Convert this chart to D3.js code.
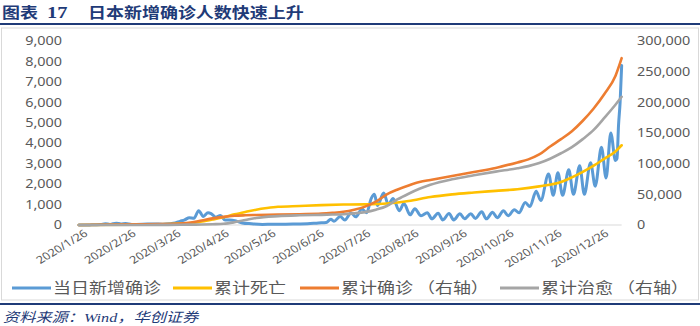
<!DOCTYPE html>
<html>
<head>
<meta charset="utf-8">
<script src="https://cdn.jsdelivr.net/npm/d3@7"></script>
<style>
  html, body { margin: 0; padding: 0; background: #fff; }
  svg { display: block; }
</style>
</head>
<body>
<svg id="chart" width="700" height="326"></svg>
<script>
// Daily new confirmed cases (left axis)
const dailyDates = [
  "2020-01-24","2020-01-31","2020-02-07","2020-02-10","2020-02-13","2020-02-17","2020-02-20","2020-02-23","2020-02-27",
  "2020-03-05","2020-03-12","2020-03-18","2020-03-22","2020-03-26","2020-03-29","2020-04-01","2020-04-04","2020-04-07",
  "2020-04-10","2020-04-13","2020-04-16","2020-04-18","2020-04-21","2020-04-24","2020-04-27","2020-04-30","2020-05-04",
  "2020-05-08","2020-05-14","2020-05-21","2020-05-28","2020-06-05","2020-06-12","2020-06-19","2020-06-26","2020-07-01",
  "2020-07-04","2020-07-06","2020-07-10","2020-07-13","2020-07-17","2020-07-20","2020-07-24","2020-07-27","2020-07-30",
  "2020-08-01","2020-08-03","2020-08-07","2020-08-10","2020-08-13","2020-08-17","2020-08-20","2020-08-24","2020-08-27",
  "2020-08-31","2020-09-04","2020-09-07","2020-09-11","2020-09-14","2020-09-18","2020-09-21","2020-09-25","2020-09-28",
  "2020-10-02","2020-10-05","2020-10-09","2020-10-12","2020-10-16","2020-10-19","2020-10-23","2020-10-26","2020-10-30",
  "2020-11-02","2020-11-06","2020-11-09","2020-11-13","2020-11-16","2020-11-21","2020-11-24","2020-11-27","2020-11-30",
  "2020-12-04","2020-12-07","2020-12-11","2020-12-14","2020-12-18","2020-12-21","2020-12-25","2020-12-28","2020-12-31",
  "2021-01-03","2021-01-04","2021-01-05","2021-01-06","2021-01-07"
];
const dailyNew = [
  0, 5, 20, 60, 30, 90, 50, 70, 25,
  35, 55, 40, 60, 100, 180, 250, 360, 330,
  700, 420, 600, 560, 380, 460, 240, 250, 200,
  100, 60, 30, 40, 40, 50, 60, 100, 120,
  280, 180, 420, 250, 590, 400, 780, 600, 1300,
  1500, 950, 1560, 1000, 1300, 700, 1050, 500, 800,
  450, 600, 300, 580, 250, 560, 250, 550, 300,
  550, 320, 650, 300, 620, 350, 700, 450, 750,
  600, 1100, 900, 1650, 1200, 2500, 1450, 2550, 1450,
  2700, 1500, 2900, 1500, 3050, 1900, 3800, 2300, 4500,
  3150, 3250, 4900, 6000, 7800
];

// Cumulative deaths (left axis)
const deathDates = [
  "2020-01-24","2020-02-29","2020-03-22","2020-04-05","2020-04-12","2020-04-19","2020-04-26","2020-05-03","2020-05-10",
  "2020-05-17","2020-05-24","2020-05-31","2020-06-14","2020-06-28","2020-07-12","2020-07-26","2020-08-09","2020-08-23",
  "2020-09-06","2020-09-20","2020-10-04","2020-10-18","2020-11-01","2020-11-15","2020-11-29","2020-12-06","2020-12-13",
  "2020-12-20","2020-12-27","2021-01-03","2021-01-07"
];
const cumDeaths = [
  0, 10, 50, 90, 170, 270, 380, 520, 640,
  750, 830, 890, 930, 970, 1000, 1010, 1050, 1170,
  1370, 1500, 1590, 1670, 1750, 1890, 2100, 2330, 2600,
  2900, 3250, 3600, 3900
];

// Cumulative confirmed and recovered (right axis)
const cumDates = [
  "2020-01-24","2020-03-01","2020-03-15","2020-03-29","2020-04-05","2020-04-12","2020-04-19","2020-04-26","2020-05-03",
  "2020-05-10","2020-05-17","2020-05-31","2020-06-14","2020-06-28","2020-07-05","2020-07-12","2020-07-19","2020-07-26",
  "2020-08-02","2020-08-09","2020-08-16","2020-08-23","2020-08-30","2020-09-06","2020-09-20","2020-10-04","2020-10-18",
  "2020-11-01","2020-11-08","2020-11-15","2020-11-22","2020-11-29","2020-12-06","2020-12-13","2020-12-20","2020-12-27",
  "2021-01-03","2021-01-07"
];
const cumConfirmed = [
  0, 1000, 1500, 2500, 4000, 7400, 10800, 13300, 15000,
  15800, 16300, 16900, 17600, 18500, 19800, 21600, 25000, 30000,
  38000, 50000, 58000, 64500, 70000, 73500, 80000, 86500, 93000,
  102000, 107000, 115000, 128000, 140000, 153000, 170000, 190000, 214000,
  243000, 272000
];
const cumRecovered = [
  0, 50, 200, 400, 600, 800, 1300, 2000, 4500,
  8000, 11500, 14500, 15800, 16500, 17000, 17600, 19000, 21000,
  25000, 31000, 42000, 51000, 59000, 65500, 74500, 81000, 87000,
  92500, 96000, 101000, 108000, 117000, 127000, 140000, 155000, 175000,
  196000, 209000
];

const tickLabels = [
  "2020/1/26","2020/2/26","2020/3/26","2020/4/26","2020/5/26","2020/6/26",
  "2020/7/26","2020/8/26","2020/9/26","2020/10/26","2020/11/26","2020/12/26"
];
const leftTicks = [0, 1000, 2000, 3000, 4000, 5000, 6000, 7000, 8000, 9000];
const rightTicks = [0, 50000, 100000, 150000, 200000, 250000, 300000];

const seriesNames = ["当日新增确诊", "累计死亡", "累计确诊 （右轴）", "累计治愈 （右轴）"];
const seriesColors = ["#5B9BD5", "#FFC000", "#ED7D31", "#A5A5A5"];

// ---- layout ----
const SX = 1.2;               // horizontal stretch applied to all text
const navy = "#1F3B78";
const axisGray = "#595959";
const parseDay = d3.utcParse("%Y-%m-%d");
const parseTick = d3.utcParse("%Y/%m/%d");

const svg = d3.select("#chart");

const x = d3.scaleUtc()
  .domain([parseTick(tickLabels[0]), parseTick(tickLabels[tickLabels.length - 1])])
  .range([82, 603]);
const yL = d3.scaleLinear().domain([0, 9000]).range([225, 41]);
const yR = d3.scaleLinear().domain([0, 300000]).range([225, 41]);

function stretchText(g, px, py, str) {
  return g.append("text")
    .attr("transform", `translate(${px},${py}) scale(${SX},1)`)
    .text(str);
}

// Title
const title = svg.append("g")
  .attr("fill", navy)
  .attr("font-family", "'Liberation Serif', 'Noto Sans CJK SC', serif")
  .attr("font-weight", 700)
  .attr("font-size", 15);
stretchText(title, 2, 17.5, "图表");
stretchText(title, 47, 17.5, "17").attr("font-size", 17);
stretchText(title, 88, 17.5, "日本新增确诊人数快速上升");

svg.append("line").attr("x1", 0).attr("x2", 700).attr("y1", 24).attr("y2", 24)
  .attr("stroke", navy).attr("stroke-width", 2.2);

// Chart frame
svg.append("rect").attr("x", 1.5).attr("y", 28).attr("width", 697).attr("height", 272)
  .attr("fill", "none").attr("stroke", "#D9D9D9").attr("stroke-width", 1);

// Category axis line
svg.append("line").attr("x1", x(parseDay(dailyDates[0]))).attr("x2", x(parseDay(dailyDates[dailyDates.length - 1])))
  .attr("y1", yL(0)).attr("y2", yL(0))
  .attr("stroke", "#D9D9D9").attr("stroke-width", 1);

// Axis labels
const axisText = svg.append("g")
  .attr("fill", axisGray)
  .attr("font-family", "'Noto Sans', sans-serif")
  .attr("font-size", 12);

const fmt = d3.format(",");
const leftG = axisText.append("g").attr("text-anchor", "end");
leftTicks.forEach(v => stretchText(leftG, 62, yL(v), fmt(v)).attr("dy", "0.35em"));

const rightG = axisText.append("g").attr("text-anchor", "start");
rightTicks.forEach(v => stretchText(rightG, 637, yR(v), fmt(v)).attr("dy", "0.35em"));

const xG = axisText.append("g").attr("text-anchor", "end").attr("font-size", 10.5);
tickLabels.forEach(t => {
  xG.append("text")
    .attr("transform", `translate(${x(parseTick(t)) + 4},${232}) scale(${SX},1) rotate(-36)`)
    .attr("dy", "0.35em")
    .text(t);
});

// Series
const lineL = d3.line().x(d => x(d[0])).y(d => yL(d[1])).curve(d3.curveMonotoneX);
const lineR = d3.line().x(d => x(d[0])).y(d => yR(d[1])).curve(d3.curveMonotoneX);

const zip = (dates, vals) => dates.map((d, i) => [parseDay(d), vals[i]]);

const plot = svg.append("g").attr("fill", "none").attr("stroke-linejoin", "round").attr("stroke-linecap", "round");
plot.append("path").attr("d", lineL(zip(dailyDates, dailyNew)))
  .attr("stroke", seriesColors[0]).attr("stroke-width", 3);
plot.append("path").attr("d", lineL(zip(deathDates, cumDeaths)))
  .attr("stroke", seriesColors[1]).attr("stroke-width", 2.6);
plot.append("path").attr("d", lineR(zip(cumDates, cumConfirmed)))
  .attr("stroke", seriesColors[2]).attr("stroke-width", 2.6);
plot.append("path").attr("d", lineR(zip(cumDates, cumRecovered)))
  .attr("stroke", seriesColors[3]).attr("stroke-width", 2.6);

// Legend
const legendX = [12, 173, 300, 500];
const legend = svg.append("g")
  .attr("font-family", "'Noto Sans CJK SC', sans-serif")
  .attr("font-size", 15)
  .attr("fill", axisGray);
seriesNames.forEach((name, i) => {
  legend.append("line")
    .attr("x1", legendX[i]).attr("x2", legendX[i] + 39)
    .attr("y1", 288).attr("y2", 288)
    .attr("stroke", seriesColors[i]).attr("stroke-width", 3);
  stretchText(legend, legendX[i] + 41, 288, name).attr("dy", "0.36em");
});

// Bottom rule and source note
svg.append("line").attr("x1", 0).attr("x2", 700).attr("y1", 304).attr("y2", 304)
  .attr("stroke", navy).attr("stroke-width", 2);
const src = svg.append("g")
  .attr("fill", navy)
  .attr("font-family", "'Liberation Serif', 'Noto Sans CJK SC', serif")
  .attr("font-style", "italic")
  .attr("font-size", 13.5);
stretchText(src, 3, 322, "资料来源：Wind，华创证券");
</script>
</body>
</html>
